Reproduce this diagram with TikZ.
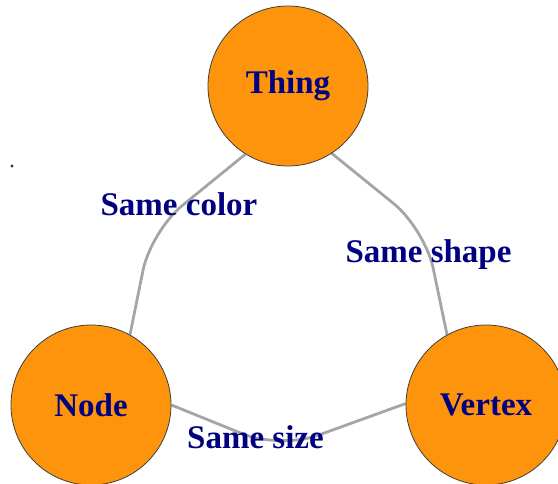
\documentclass[tikz,border=0pt]{standalone}
\usepackage{fontspec}
\setmainfont{Liberation Serif}
\usetikzlibrary{backgrounds}
\definecolor{vfill}{RGB}{253,148,12}
\definecolor{vlabel}{RGB}{0,0,128}
\definecolor{ecol}{RGB}{165,165,165}
\tikzset{
  vert/.style={circle, draw=black!75, line width=0.8pt, fill=vfill, minimum size=160pt, inner sep=0pt,
    text=vlabel, font=\fontsize{33}{33}\selectfont\bfseries},
  elabel/.style={anchor=base, text=vlabel, inner sep=0pt, font=\fontsize{33}{33}\selectfont\bfseries},
  edge/.style={draw=ecol, line width=2.8pt, rounded corners=40pt}
}
\begin{document}
\begin{tikzpicture}[x=1pt,y=-1pt]
\useasboundingbox (0,0) rectangle (558,484);
\coordinate (c1) at (151,231);
\coordinate (c2) at (425,229);
\coordinate (c3) at (280,449);
\coordinate (dot) at (12,166);
\node[vert] (thing) at (288,86) {Thing};
\node[vert] (node) at (91,405) {Node};
\node[vert] (vertex) at (486,405) {Vertex};
\fill[black!80] (dot) circle (1.6pt);
\begin{scope}[on background layer]
\draw[edge] (thing.238) -- (c1) -- (node.61);
\draw[edge] (thing.303) -- (c2) -- (vertex.119);
\draw[edge] (node.0) -- (c3) -- (vertex.179);
\end{scope}
\node[elabel] (l1) at (179,216) {Same color};
\node[elabel] (l2) at (428.5,263) {Same shape};
\node[elabel] (l3) at (255.5,449) {Same size};
\end{tikzpicture}
\end{document}
